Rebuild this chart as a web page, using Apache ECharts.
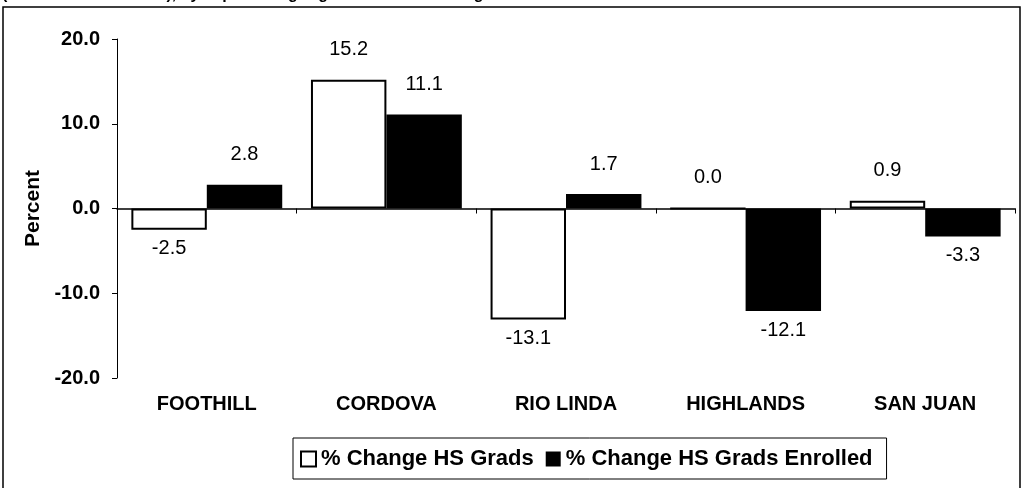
<!DOCTYPE html>
<html lang="en">
  <head>
    <meta charset="UTF-8">
    <title>HS Grads chart</title>
    <script src="https://cdn.jsdelivr.net/npm/echarts@6/dist/echarts.min.js"></script>
    <style>
      body { margin: 0; background: #fff; }
      #main { width: 1033px; height: 488px; }
    </style>
  </head>
  <body>
    <div id="main"></div>
    <script type="text/javascript">
      var schools = ['FOOTHILL', 'CORDOVA', 'RIO LINDA', 'HIGHLANDS', 'SAN JUAN'];
      var gradsChange = [-2.5, 15.2, -13.1, 0.0, 0.9];
      var enrolledChange = [2.8, 11.1, 1.7, -12.1, -3.3];
      var seriesNames = ['% Change HS Grads', '% Change HS Grads Enrolled'];

      var font = 'Liberation Sans, Arial, sans-serif';

      // labels sit above positive bars and below negative ones
      function withLabels(values) {
        return values.map(function (v) {
          return {
            value: v,
            label: v >= 0 ? { position: 'top', distance: 20 } : { position: 'bottom', distance: 9 }
          };
        });
      }

      var labelStyle = {
        show: true,
        color: '#000',
        fontFamily: font,
        fontSize: 20,
        formatter: function (p) { return p.value.toFixed(1); }
      };

      var chart = echarts.init(document.getElementById('main'));
      chart.setOption({
        animation: false,
        backgroundColor: '#fff',
        textStyle: { fontFamily: font },
        graphic: [
          {
            type: 'text', left: 2, top: -13,
            style: { text: '(Fall 1996 to Fall 1997), by Top Feeding High Schools Attending', fill: '#000',
                     font: 'bold 16px Liberation Sans, Arial, sans-serif' }
          },
          {
            type: 'rect', shape: { x: 3, y: 7, width: 1017, height: 500 },
            style: { fill: 'none', stroke: '#000', lineWidth: 1.5 }
          }
        ],
        grid: { left: 117, right: 18, top: 39, bottom: 110 },
        legend: {
          left: 293, top: 438,
          data: seriesNames,
          icon: 'rect',
          itemWidth: 15, itemHeight: 15, itemGap: 12,
          borderColor: '#000', borderWidth: 1, borderRadius: 0,
          padding: [10, 14, 9, 7],
          textStyle: { fontFamily: font, fontSize: 22, fontWeight: 'bold', color: '#000' }
        },
        xAxis: [
          {
            type: 'category', data: schools,
            axisLine: { onZero: true, lineStyle: { color: '#000', width: 1.5 } },
            axisTick: { show: true, length: 5, lineStyle: { color: '#000' } },
            axisLabel: { show: false }
          },
          {
            type: 'category', data: schools, position: 'bottom',
            axisLine: { show: false, onZero: false },
            axisTick: { show: false },
            axisLabel: { margin: 16, color: '#000', fontFamily: font, fontSize: 20, fontWeight: 'bold' }
          }
        ],
        yAxis: {
          type: 'value', min: -20, max: 20, interval: 10,
          name: 'Percent', nameLocation: 'middle', nameGap: 73, nameRotate: 90,
          nameTextStyle: { color: '#000', fontFamily: font, fontSize: 21, fontWeight: 'bold' },
          axisLine: { show: true, lineStyle: { color: '#000', width: 1 } },
          axisTick: { show: true, length: 5, lineStyle: { color: '#000' } },
          splitLine: { show: false },
          axisLabel: {
            margin: 17, color: '#000', fontFamily: font, fontSize: 20, fontWeight: 'bold',
            formatter: function (v) { return v.toFixed(1); }
          }
        },
        series: [
          {
            name: seriesNames[0], type: 'bar', xAxisIndex: 0,
            data: withLabels(gradsChange),
            barGap: '0%', barCategoryGap: '16%',
            itemStyle: { color: '#fff', borderColor: '#000', borderWidth: 2 },
            label: labelStyle
          },
          {
            name: seriesNames[1], type: 'bar', xAxisIndex: 0,
            data: withLabels(enrolledChange),
            barGap: '0%', barCategoryGap: '16%',
            itemStyle: { color: '#000' },
            label: labelStyle
          }
        ]
      });
    </script>
  </body>
</html>
